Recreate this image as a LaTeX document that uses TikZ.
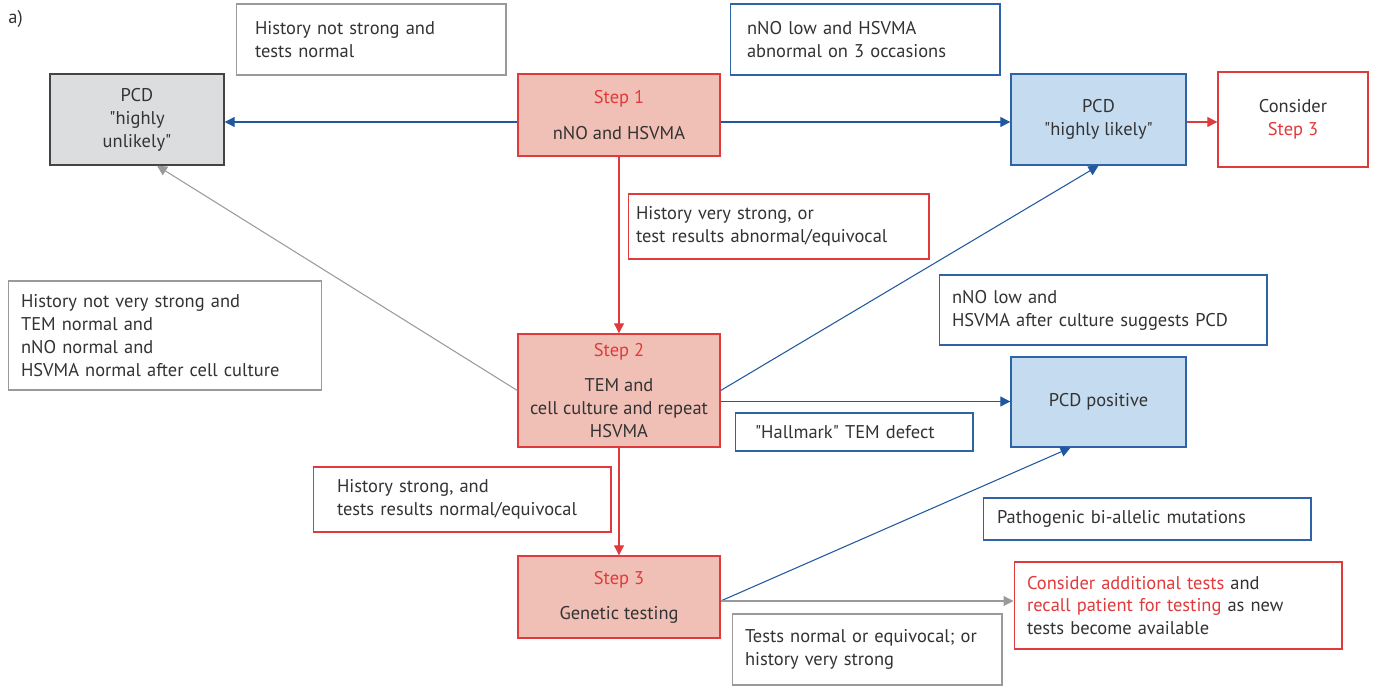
\documentclass[tikz,border=0pt]{standalone}
\usepackage{fontspec}
\setmainfont{PT Sans}
\usetikzlibrary{arrows.meta,calc}
\definecolor{tred}{HTML}{E03A3C}
\definecolor{sfill}{HTML}{F0C0B6}
\definecolor{bline}{HTML}{2E63A8}
\definecolor{barrow}{HTML}{1F58A0}
\definecolor{bfill}{HTML}{C5DCF0}
\definecolor{gfill}{HTML}{DCDDDF}
\definecolor{gline}{HTML}{9A9A9A}
\definecolor{dgline}{HTML}{444444}
\definecolor{txt}{HTML}{333333}
\newcommand\q{\textquotedbl}
\tikzset{
  every node/.style={font=\fontsize{10.5}{13}\selectfont, text=txt},
  box/.style={draw, line width=0.8pt, align=center, inner sep=0pt},
  stepbox/.style={box, draw=tred, fill=sfill, minimum width=4.04cm},
  bluebox/.style={box, draw=bline, fill=bfill, minimum width=3.5cm},
  lab/.style={draw, fill=white, line width=0.6pt, align=left, inner ysep=0pt},
  tip/.style={-{Triangle[length=0.2cm,width=0.2cm]}},
  rarr/.style={tip, draw=tred, line width=0.6pt},
  barr/.style={tip, draw=barrow, line width=0.6pt},
  garr/.style={tip, draw=gline, line width=0.6pt},
}
\begin{document}
\begin{tikzpicture}[x=0.02cm,y=-0.02cm]
\useasboundingbox (0,0) rectangle (1377,686);
\node[anchor=north west, inner sep=0pt] (a) at (8,10) {a)};
% main boxes
\node[box, draw=dgline, fill=gfill, minimum width=3.48cm, minimum height=1.82cm] (unl) at (137,119.5) {PCD\\\q highly\\unlikely\q};
\node[stepbox, minimum height=1.64cm] (s1) at (619,115) {\textcolor{tred}{Step 1}\\[7pt]nNO and HSVMA};
\node[bluebox, minimum height=1.82cm] (lik) at (1098.5,119.5) {PCD\\\q highly likely\q};
\node[box, draw=tred, fill=white, minimum width=3.0cm, minimum height=1.9cm] (c1) at (1293,119.5) {Consider\\\textcolor{tred}{Step 3}};
\node[stepbox, minimum height=2.26cm] (s2) at (619,390.5) {\textcolor{tred}{Step 2}\\[7pt]TEM and\\cell culture and repeat\\HSVMA};
\node[bluebox, minimum height=1.8cm] (pos) at (1098.5,402) {PCD positive};
\node[stepbox, minimum height=1.64cm] (s3) at (619,597) {\textcolor{tred}{Step 3}\\[7pt]Genetic testing};
% labels
\node[lab, draw=gline, text width=4.64cm, inner xsep=0.38cm, minimum height=1.42cm] (l1) at (371,39.5) {History not strong and\\tests normal};
\node[lab, draw=bline, text width=4.72cm, inner xsep=0.34cm, minimum height=1.42cm] (l2) at (865,39.5) {nNO low and HSVMA\\abnormal on 3 occasions};
\node[lab, draw=tred, text width=5.70cm, inner xsep=0.16cm, minimum height=1.30cm] (l3) at (778.5,226.5) {History very strong, or\\test results abnormal/equivocal};
\node[lab, draw=gline, text width=5.76cm, inner xsep=0.26cm, minimum height=2.18cm] (l4) at (165,335.5) {History not very strong and\\TEM normal and\\nNO normal and\\HSVMA normal after cell culture};
\node[lab, draw=bline, text width=6.04cm, inner xsep=0.26cm, minimum height=1.40cm] (l5) at (1103,310) {nNO low and\\HSVMA after culture suggests PCD};
\node[lab, draw=bline, text width=3.96cm, inner xsep=0.40cm, minimum height=0.76cm] (l6) at (854,432) {\q Hallmark\q{} TEM defect};
\node[lab, draw=tred, text width=5.00cm, inner xsep=0.48cm, minimum height=1.30cm] (l7) at (462,499.5) {History strong, and\\tests results normal/equivocal};
\node[lab, draw=bline, text width=6.00cm, inner xsep=0.28cm, minimum height=0.84cm] (l8) at (1147,519) {Pathogenic bi-allelic mutations};
\node[lab, draw=gline, text width=4.88cm, inner xsep=0.26cm, minimum height=1.42cm] (l9) at (867,649.5) {Tests normal or equivocal; or\\history very strong};
\node[lab, draw=tred, text width=6.04cm, inner xsep=0.26cm, minimum height=1.74cm] (c2) at (1178,605.5) {\textcolor{tred}{Consider additional tests} and\\\textcolor{tred}{recall patient for testing} as new\\tests become available};
% connectors
\draw[barr] ([yshift=-2.5*0.02cm]s1.west |- unl.east) -- ([yshift=-2.5*0.02cm]unl.east);
\draw[barr] ([yshift=-2.5*0.02cm]s1.east |- lik.west) -- ([yshift=-2.5*0.02cm]lik.west);
\draw[rarr] ([yshift=-2.5*0.02cm]lik.east) -- ([yshift=-2.5*0.02cm]lik.east -| c1.west);
\draw[rarr] (s1.south) -- (s2.north);
\draw[garr] (s2.west) -- ([xshift=20*0.02cm]unl.south);
\draw[barr] (s2.east) -- (lik.south);
\draw[barr] ([yshift=-11*0.02cm]s2.east) -- ([yshift=-11*0.02cm]s2.east -| pos.west);
\draw[rarr] (s2.south) -- (s3.north);
\draw[barr] ([yshift=-4*0.02cm]s3.east) -- ([xshift=-28*0.02cm]pos.south);
\draw[garr] ([yshift=-4*0.02cm]s3.east) -- ([yshift=-4*0.02cm]s3.east -| c2.west);
\end{tikzpicture}
\end{document}
